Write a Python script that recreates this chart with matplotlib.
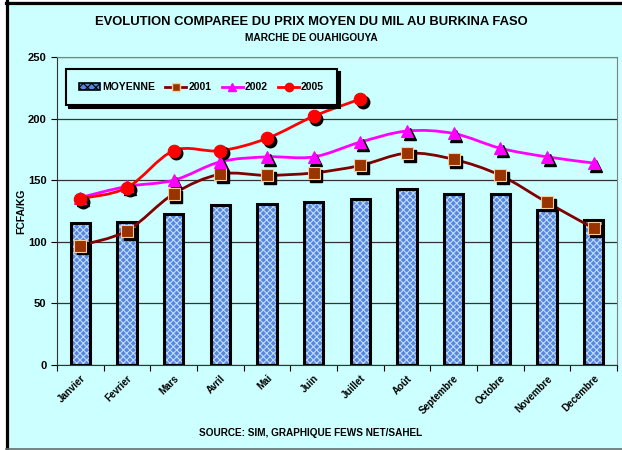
import numpy as np
import matplotlib
matplotlib.use("Agg")
import matplotlib.pyplot as plt
import matplotlib.patches as mpatches
from matplotlib.lines import Line2D
from matplotlib.path import Path
import matplotlib.transforms as mtransforms

plt.rcParams['font.family'] = ['Liberation Sans', 'DejaVu Sans']
plt.rcParams['font.weight'] = 'bold'
plt.rcParams['hatch.linewidth'] = 0.8

mois = ["Janvier", "Fevrier", "Mars", "Avril", "Mai", "Juin", "Juillet",
        "Août", "Septembre", "Octobre", "Novembre", "Decembre"]
moyenne = [115, 116, 123, 130, 131, 132, 135, 143, 139, 139, 126, 118]
prix_2001 = [97, 109, 139, 155, 154, 156, 162, 172, 167, 154, 132, 111]
prix_2002 = [136, 145, 150, 165, 169, 169, 181, 190, 188, 176, 169, 164]
prix_2005 = [135, 144, 174, 174, 184, 202, 216]

BG = "#CCFFFF"
W, H = 622, 450


def courbe_lisse(ax, xs, ys, color, lw):
    # courbe "lissée" type Excel (Catmull-Rom -> Bezier)
    pts = np.column_stack([xs, ys]).astype(float)
    n = len(pts)
    verts = [pts[0]]
    codes = [Path.MOVETO]
    for i in range(n - 1):
        p0 = pts[i - 1] if i > 0 else pts[i]
        p1 = pts[i]
        p2 = pts[i + 1]
        p3 = pts[i + 2] if i + 2 < n else pts[i + 1]
        c1 = p1 + (p2 - p0) / 6
        c2 = p2 - (p3 - p1) / 6
        verts += [c1, c2, p2]
        codes += [Path.CURVE4] * 3
    patch = mpatches.PathPatch(Path(verts, codes), fill=False, edgecolor=color,
                               lw=lw, zorder=4, capstyle='round')
    ax.add_patch(patch)


def marqueurs(ax, xs, ys, marker, ms, face, edge):
    ombre = ax.transData + mtransforms.ScaledTranslation(2 / 72, -2 / 72, ax.figure.dpi_scale_trans)
    ax.plot(xs, ys, linestyle='none', marker=marker, ms=ms, mfc='black', mec='black',
            transform=ombre, zorder=5)
    ax.plot(xs, ys, linestyle='none', marker=marker, ms=ms, mfc=face, mec=edge,
            mew=0.8, zorder=6)


fig = plt.figure(figsize=(6.22, 4.5), dpi=100, facecolor='white')

# fond cyan + cadre (noir a gauche et en haut, gris en bas)
fig.patches.append(mpatches.Rectangle((6 / W, 1 - 449 / H), 616 / W, 448 / H,
                                      transform=fig.transFigure, facecolor=BG, lw=0, zorder=-10))
fig.lines.append(Line2D([7.5 / W, 7.5 / W], [1 - 449 / H, 1 - 1 / H], transform=fig.transFigure,
                        color='black', lw=2.3, zorder=10))
fig.lines.append(Line2D([6 / W, 1], [1 - 2.5 / H, 1 - 2.5 / H], transform=fig.transFigure,
                        color='black', lw=2.3, zorder=10))
fig.lines.append(Line2D([6 / W, 1], [1 - 448.5 / H, 1 - 448.5 / H], transform=fig.transFigure,
                        color='#607070', lw=1.2, zorder=10))

ax = fig.add_axes([0.0916, 0.189, 0.9004, 0.684], facecolor=BG)

x = np.arange(len(mois))
ax.bar(x, moyenne, width=0.42, color='#5588DD', edgecolor='#C0DAFF', hatch='xxxxx',
       lw=0, zorder=2)
ax.bar(x, moyenne, width=0.42, fill=False, edgecolor='black', lw=2.2, zorder=3)

courbe_lisse(ax, x, prix_2001, '#800000', 2)
courbe_lisse(ax, x, prix_2002, '#FF00FF', 2)
courbe_lisse(ax, np.arange(len(prix_2005)), prix_2005, '#FF0000', 2)

marqueurs(ax, x, prix_2001, 's', 8, '#993300', '#FFCC99')
marqueurs(ax, x, prix_2002, '^', 8, '#FF00FF', '#FF00FF')
marqueurs(ax, np.arange(len(prix_2005)), prix_2005, 'o', 9, '#FF0000', '#FF0000')

ax.set_xlim(-0.5, len(mois) - 0.5)
ax.set_ylim(0, 250)
ax.set_yticks(range(0, 251, 50))
ax.set_xticks(x)
ax.set_xticklabels(mois, rotation=45, ha='right', rotation_mode='anchor', fontsize=7)
ax.set_xticks(np.arange(-0.5, len(mois)), minor=True)
ax.tick_params(axis='x', which='major', length=0, pad=6)
ax.tick_params(axis='x', which='minor', length=4, direction='out', width=0.8)
ax.tick_params(axis='y', labelsize=8, length=4, width=0.8)
for lab in ax.get_yticklabels():
    lab.set_fontweight('bold')
ax.grid(axis='y', color='#333333', lw=0.9, zorder=1)
ax.set_axisbelow(True)
for s in ['top', 'right']:
    ax.spines[s].set_color('#808080')
for s in ['left', 'bottom']:
    ax.spines[s].set_color('#333333')

ax.set_ylabel("FCFA/KG", fontsize=7.5, fontweight='bold')
ax.yaxis.set_label_coords(-0.055, 0.5)

fig.text(0.5, 0.952, "EVOLUTION COMPAREE DU PRIX MOYEN DU MIL AU BURKINA FASO",
         ha='center', va='center', fontsize=9.4, fontweight='bold')
fig.text(0.5, 0.915, "MARCHE DE OUAHIGOUYA", ha='center', va='center',
         fontsize=7.3, fontweight='bold')
fig.text(0.5, 0.038, "SOURCE: SIM, GRAPHIQUE FEWS NET/SAHEL", ha='center', va='center',
         fontsize=7.2, fontweight='bold')

handles = [
    mpatches.Patch(facecolor='#5588DD', edgecolor='black', hatch='xxxx', lw=1.2, label='MOYENNE'),
    Line2D([], [], color='#800000', lw=2, marker='s', ms=6, mfc='#993300', mec='#FFCC99', label='2001'),
    Line2D([], [], color='#FF00FF', lw=2, marker='^', ms=6, mfc='#FF00FF', mec='#FF00FF', label='2002'),
    Line2D([], [], color='#FF0000', lw=2, marker='o', ms=6, mfc='#FF0000', mec='#FF0000', label='2005'),
]
leg = ax.legend(handles=handles, loc='upper left', bbox_to_anchor=(0.007, 0.977), ncol=4,
                fontsize=7.5, frameon=True, fancybox=False, facecolor=BG, edgecolor='black',
                handlelength=2.0, handletextpad=0.2, columnspacing=1.0,
                borderpad=1.25, shadow={'color': 'black', 'alpha': 1})
leg.get_frame().set_linewidth(1.5)
leg.set_zorder(8)

fig.savefig("out.png", dpi=100, facecolor='white')
